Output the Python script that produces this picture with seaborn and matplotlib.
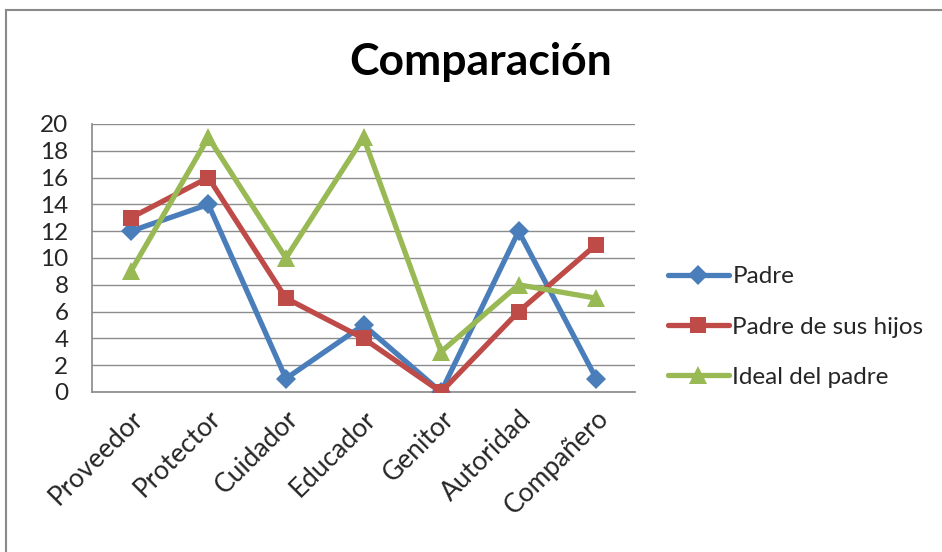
import matplotlib
matplotlib.use("Agg")
import matplotlib.pyplot as plt
import seaborn as sns
import pandas as pd
from matplotlib.patches import Rectangle

categories = ["Proveedor", "Protector", "Cuidador", "Educador", "Genitor", "Autoridad", "Compañero"]
padre = [12, 14, 1, 5, 0, 12, 1]
padre_hijos = [13, 16, 7, 4, 0, 6, 11]
ideal = [9, 19, 10, 19, 3, 8, 7]
series_names = ["Padre", "Padre de sus hijos", "Ideal del padre"]
colors = ["#4A7EBB", "#BE4B48", "#98B954"]
markers = ["D", "s", "^"]
msizes = [10, 12, 13]

sns.set_theme(style="white")
plt.rcParams['font.family'] = ['Lato', 'DejaVu Sans']

rows = []
for name, vals in zip(series_names, [padre, padre_hijos, ideal]):
    for i, v in enumerate(vals):
        rows.append({"pos": i, "value": v, "serie": name})
df = pd.DataFrame(rows)

fig = plt.figure(figsize=(9.42, 5.52), dpi=100)
ax = fig.add_axes([92/942, 1-392/552, (635-92)/942, (392-124)/552])

for name, c, m, ms in zip(series_names, colors, markers, msizes):
    sub = df[df["serie"] == name]
    sns.lineplot(data=sub, x="pos", y="value", ax=ax, color=c, marker=m,
                 markersize=ms, linewidth=3.8, markeredgewidth=0, label=name, zorder=3)

ax.set_xlim(-0.5, 6.5)
ax.set_ylim(0, 20)
ax.set_yticks(range(0, 21, 2))
ax.set_yticklabels([str(v) for v in range(0, 21, 2)], fontsize=17.5)
ax.set_xticks(range(len(categories)))
ax.set_xticklabels(categories, rotation=45, ha="right", rotation_mode="anchor", fontsize=19)
ax.tick_params(axis="y", length=0, pad=17)
ax.tick_params(axis="x", length=0, pad=10)
ax.grid(axis="y", color="#8c8c8c", linewidth=1)
ax.set_axisbelow(True)
for s in ["top", "right"]:
    ax.spines[s].set_visible(False)
ax.spines["left"].set_color("#8c8c8c")
ax.spines["bottom"].set_color("#8c8c8c")
ax.set_xlabel("")
ax.set_ylabel("")

leg = ax.legend(loc="center left", bbox_to_anchor=(668/942, 1-327/552), bbox_transform=fig.transFigure,
                frameon=False, fontsize=17.5, handlelength=2.5, labelspacing=1.2, handletextpad=0.15,
                borderaxespad=0, borderpad=0)

fig.text(481/942, 1-62/552, "Comparación", ha="center", va="center", fontsize=32, fontweight="bold",
         color="black")

fig.patches.append(Rectangle((6/942, -0.1), 1.2, 1-10/552+0.1, transform=fig.transFigure,
                             fill=False, edgecolor="#8a8a8a", linewidth=1.5))

fig.savefig("out.png", dpi=100)
